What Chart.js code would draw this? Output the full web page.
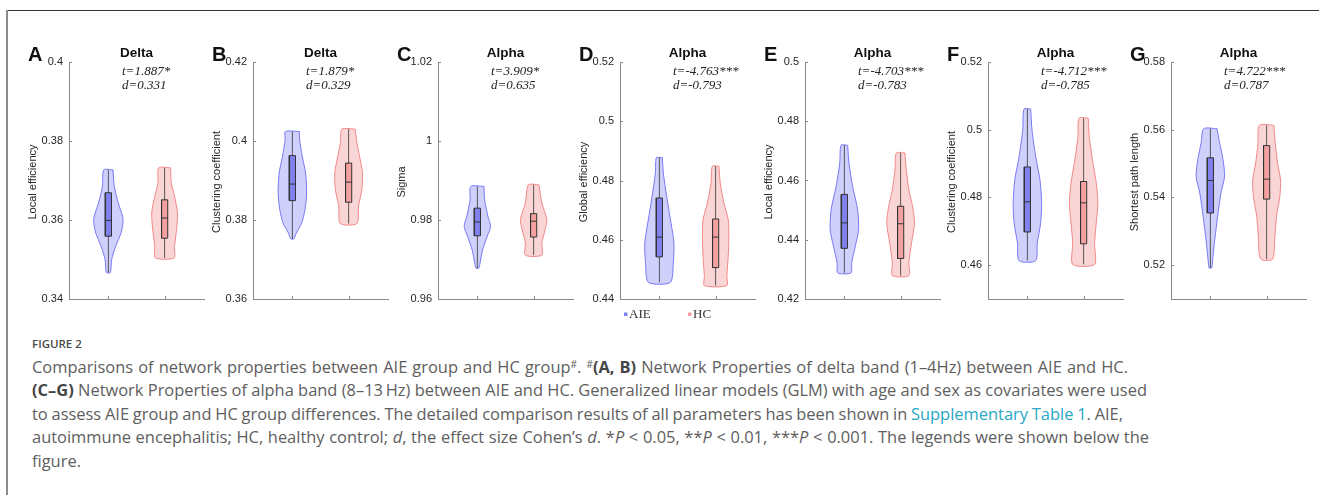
<!DOCTYPE html>
<html>
<head>
<meta charset="utf-8">
<script src="https://cdn.jsdelivr.net/npm/chart.js@4.4.1/dist/chart.umd.min.js"></script>
<style>
  body { margin: 0; background: #fff; width: 1319px; height: 495px; overflow: hidden; position: relative; }
  .frame-top { position: absolute; left: 7px; top: 10px; right: 0; height: 1px; background: #333; }
  .frame-left { position: absolute; left: 6px; top: 10px; width: 2px; bottom: 0; background: #8c8c8c; }
  canvas.panel { position: absolute; top: 0; }
  #caption { position: absolute; left: 32px; top: 335px; color: #5e5e5e; font-family: "Open Sans", sans-serif; white-space: nowrap; }
  #caption .fig { font-size: 11.5px; font-weight: 600; height: 18px; line-height: 18px; color: #4a4a4a; margin-bottom: 2px; }
  #caption .lines div { font-size: 15px; line-height: 23.4px; display: table; }
  #caption b { color: #454545; font-weight: 700; }
  #caption sup { font-size: 10px; line-height: 0; vertical-align: 5px; }
  #caption .link { color: #27a8c4; }
</style>
</head>
<body>
<div class="frame-top"></div>
<div class="frame-left"></div>
<div id="charts"></div>
<div id="caption">
  <div class="fig">FIGURE 2</div>
  <div class="lines">
    <div>Comparisons of network properties between AIE group and HC group<sup>#</sup>. <sup>#</sup><b>(A, B)</b> Network Properties of delta band (1–4Hz) between AIE and HC.</div>
    <div><b>(C–G)</b> Network Properties of alpha band (8–13&#8201;Hz) between AIE and HC. Generalized linear models (GLM) with age and sex as covariates were used</div>
    <div>to assess AIE group and HC group differences. The detailed comparison results of all parameters has been shown in <span class="link">Supplementary Table 1</span>. AIE,</div>
    <div>autoimmune encephalitis; HC, healthy control; <i>d</i>, the effect size Cohen’s <i>d</i>. *<i>P</i> &lt; 0.05, **<i>P</i> &lt; 0.01, ***<i>P</i> &lt; 0.001. The legends were shown below the</div>
    <div>figure.</div>
  </div>
</div>
<script>
// ---- data ----
const panelLetters = ["A", "B", "C", "D", "E", "F", "G"];
const bands = ["Delta", "Delta", "Alpha", "Alpha", "Alpha", "Alpha", "Alpha"];
const measures = ["Local efficiency", "Clustering coefficient", "Sigma", "Global efficiency",
  "Local efficiency", "Clustering coefficient", "Shortest path length"];
const tStats = ["t=1.887*", "t=1.879*", "t=3.909*", "t=-4.763***", "t=-4.703***", "t=-4.712***", "t=4.722***"];
const dStats = ["d=0.331", "d=0.329", "d=0.635", "d=-0.793", "d=-0.783", "d=-0.785", "d=0.787"];
const groups = ["AIE", "HC"];

const yMin = [0.34, 0.36, 0.96, 0.44, 0.42, 0.45, 0.51];
const yMax = [0.40, 0.42, 1.02, 0.52, 0.50, 0.52, 0.58];
const yTicks = [
  [0.34, 0.36, 0.38, 0.4],
  [0.36, 0.38, 0.4, 0.42],
  [0.96, 0.98, 1, 1.02],
  [0.44, 0.46, 0.48, 0.5, 0.52],
  [0.42, 0.44, 0.46, 0.48, 0.5],
  [0.46, 0.48, 0.5, 0.52],
  [0.52, 0.54, 0.56, 0.58]
];

// box stats per panel: [q1, median, q3]
const aieBox = [
  [0.3559, 0.3599, 0.3669], [0.3849, 0.3891, 0.3963], [0.9760, 0.9795, 0.9830], [0.4542, 0.4609, 0.4741],
  [0.4371, 0.4457, 0.4553], [0.4698, 0.4787, 0.4890], [0.5354, 0.5450, 0.5517]
];
const hcBox = [
  [0.3554, 0.3605, 0.3651], [0.3845, 0.3896, 0.3944], [0.9757, 0.9797, 0.9816], [0.4506, 0.4609, 0.4670],
  [0.4337, 0.4454, 0.4513], [0.4663, 0.4784, 0.4847], [0.5395, 0.5454, 0.5553]
];

// violin profiles, top to bottom: [value, half width in x units]
const aieViolin = [
  [[0.3727, 0.082], [0.3685, 0.106], [0.3643, 0.176], [0.3609, 0.253], [0.3592, 0.259], [0.3567, 0.224], [0.3533, 0.129], [0.3500, 0.059], [0.3467, 0.035]],
  [[0.4024, 0.124], [0.4003, 0.129], [0.3961, 0.176], [0.3919, 0.235], [0.3868, 0.253], [0.3826, 0.224], [0.3792, 0.165], [0.3767, 0.07], [0.3752, 0.025]],
  [[0.9885, 0.118], [0.9851, 0.129], [0.9809, 0.188], [0.9784, 0.235], [0.9759, 0.176], [0.9725, 0.094], [0.9691, 0.047], [0.9678, 0.024]],
  [[0.4877, 0.053], [0.4825, 0.071], [0.4747, 0.129], [0.4657, 0.206], [0.4589, 0.259], [0.4521, 0.247], [0.4456, 0.194]],
  [[0.4719, 0.059], [0.4659, 0.082], [0.4580, 0.147], [0.4502, 0.235], [0.4434, 0.253], [0.4378, 0.194], [0.4321, 0.129], [0.4288, 0.118]],
  [[0.5061, 0.059], [0.5000, 0.082], [0.4921, 0.147], [0.4852, 0.224], [0.4783, 0.253], [0.4724, 0.235], [0.4665, 0.176], [0.4613, 0.147]],
  [[0.5603, 0.118], [0.5561, 0.165], [0.5512, 0.224], [0.5462, 0.253], [0.5413, 0.188], [0.5344, 0.129], [0.5265, 0.071], [0.5206, 0.035], [0.5192, 0.024]]
];
const hcViolin = [
  [[0.3732, 0.106], [0.3694, 0.118], [0.3660, 0.176], [0.3618, 0.229], [0.3576, 0.212], [0.3533, 0.176], [0.3504, 0.165]],
  [[0.4030, 0.118], [0.3995, 0.147], [0.3961, 0.194], [0.3919, 0.247], [0.3877, 0.235], [0.3835, 0.176], [0.3791, 0.147]],
  [[0.9889, 0.094], [0.9843, 0.147], [0.9801, 0.235], [0.9776, 0.206], [0.9742, 0.147], [0.9711, 0.147]],
  [[0.4848, 0.059], [0.4792, 0.082], [0.4724, 0.147], [0.4668, 0.224], [0.4612, 0.235], [0.4544, 0.224], [0.4477, 0.2], [0.4445, 0.2]],
  [[0.4693, 0.076], [0.4637, 0.1], [0.4569, 0.147], [0.4513, 0.212], [0.4457, 0.247], [0.4389, 0.194], [0.4322, 0.147], [0.4279, 0.147]],
  [[0.5034, 0.082], [0.4980, 0.1], [0.4902, 0.165], [0.4843, 0.224], [0.4784, 0.253], [0.4724, 0.224], [0.4665, 0.194], [0.4602, 0.194]],
  [[0.5613, 0.129], [0.5561, 0.153], [0.5502, 0.194], [0.5452, 0.247], [0.5403, 0.235], [0.5344, 0.176], [0.5285, 0.147], [0.5218, 0.106]]
];

// ---- layout / style ----
const panelLefts = [69, 253, 438, 620, 805, 988, 1171]; // left edge of each plot area
const AXIS_W = 58, PLOT_W = 135, CANVAS_W = 200, CANVAS_H = 330;
const BOX_HALF = 0.055;
const colors = {
  AIE: { edge: "rgb(120,120,245)", fill: "rgba(120,120,245,0.35)", box: "rgb(128,128,238)" },
  HC: { edge: "rgb(242,135,135)", fill: "rgba(242,135,135,0.35)", box: "rgb(244,160,160)" }
};

function violinPoints(profile, c) {
  const right = profile.map(([v, w]) => ({ x: c + w, y: v }));
  const left = profile.slice().reverse().map(([v, w]) => ({ x: c - w, y: v }));
  return right.concat(left, [right[0]]);
}

// fills a dataset's own line path (closed shapes)
const shapeFillPlugin = {
  id: "shapeFill",
  beforeDatasetDraw(chart, args) {
    const ds = chart.data.datasets[args.index];
    if (!ds.shapeFill) return;
    const line = args.meta.dataset;
    const ctx = chart.ctx;
    line.updateControlPoints(chart.chartArea, "x");
    ctx.save();
    ctx.beginPath();
    line.path(ctx);
    ctx.closePath();
    ctx.fillStyle = ds.shapeFill;
    ctx.fill();
    ctx.restore();
  }
};

// panel letter, titles, stats, inward ticks, legend
const decorPlugin = {
  id: "decor",
  afterDraw(chart, args, opts) {
    const i = opts.index;
    const { ctx, chartArea } = chart;
    const { left, right, top, bottom } = chartArea;
    const xs = chart.scales.x, ys = chart.scales.y;
    ctx.save();
    // inward ticks
    ctx.strokeStyle = "#888";
    ctx.lineWidth = 1;
    ctx.beginPath();
    yTicks[i].forEach(v => {
      const y = Math.round(ys.getPixelForValue(v)) + 0.5;
      ctx.moveTo(left, y); ctx.lineTo(left + 3, y);
    });
    [1, 2].forEach(c => {
      const x = Math.round(xs.getPixelForValue(c)) + 0.5;
      ctx.moveTo(x, bottom); ctx.lineTo(x, bottom - 3);
    });
    ctx.stroke();

    ctx.fillStyle = "#111";
    ctx.font = "bold 20px 'Liberation Sans', Arial, sans-serif";
    ctx.textAlign = "left";
    ctx.textBaseline = "alphabetic";
    ctx.fillText(panelLetters[i], left - 41, 60.5);

    ctx.font = "bold 13.5px 'Liberation Sans', Arial, sans-serif";
    ctx.textAlign = "center";
    ctx.fillText(bands[i], (left + right) / 2, 57);

    ctx.fillStyle = "#222";
    ctx.font = "italic 13px 'Liberation Serif', 'Times New Roman', serif";
    ctx.textAlign = "left";
    ctx.fillText(tStats[i], left + 53, 75);
    ctx.fillText(dStats[i], left + 53, 89);

    ctx.fillStyle = "#262626";
    ctx.font = "11px 'Liberation Sans', Arial, sans-serif";
    ctx.save();
    ctx.translate(left - 36, (top + bottom) / 2 + 1.5);
    ctx.rotate(-Math.PI / 2);
    ctx.textAlign = "center";
    ctx.textBaseline = "middle";
    ctx.fillText(measures[i], 0, 0);
    ctx.restore();

    if (opts.legend) {
      ctx.font = "13px 'Liberation Serif', 'Times New Roman', serif";
      ctx.textBaseline = "middle";
      ctx.textAlign = "left";
      [[groups[0], 4], [groups[1], 68]].forEach(([g, dx]) => {
        ctx.fillStyle = colors[g].box;
        ctx.fillRect(left + dx, 312.5, 3.5, 3.5);
        ctx.fillStyle = "#333";
        ctx.fillText(g, left + dx + 5, 315);
      });
    }
    ctx.restore();
  }
};

function buildDatasets(i) {
  const ds = [];
  [aieViolin, hcViolin].forEach((violins, g) => {
    const c = g + 1;
    const col = colors[groups[g]];
    const prof = violins[i];
    const box = (g === 0 ? aieBox : hcBox)[i];
    ds.push({
      label: groups[g] + " violin", data: violinPoints(prof, c),
      borderColor: col.edge, borderWidth: 1, tension: 0.25, shapeFill: col.fill, order: 4
    });
    ds.push({
      label: groups[g] + " whisker",
      data: [{ x: c, y: prof[prof.length - 1][0] }, { x: c, y: prof[0][0] }],
      borderColor: "#555", borderWidth: 1, order: 3
    });
    ds.push({
      label: groups[g] + " box",
      data: [{ x: c - BOX_HALF, y: box[0] }, { x: c + BOX_HALF, y: box[0] }, { x: c + BOX_HALF, y: box[2] },
             { x: c - BOX_HALF, y: box[2] }, { x: c - BOX_HALF, y: box[0] }],
      borderColor: "#333", borderWidth: 1, shapeFill: col.box, order: 2
    });
    ds.push({
      label: groups[g] + " median",
      data: [{ x: c - BOX_HALF, y: box[1] }, { x: c + BOX_HALF, y: box[1] }],
      borderColor: "#333", borderWidth: 1, order: 1
    });
  });
  return ds;
}

const holder = document.getElementById("charts");
panelLetters.forEach((letter, i) => {
  const cv = document.createElement("canvas");
  cv.className = "panel";
  cv.width = CANVAS_W;
  cv.height = CANVAS_H;
  cv.style.left = (panelLefts[i] - AXIS_W) + "px";
  holder.appendChild(cv);

  new Chart(cv.getContext("2d"), {
    type: "line",
    data: { datasets: buildDatasets(i) },
    options: {
      responsive: false,
      animation: false,
      events: [],
      elements: { point: { radius: 0 } },
      layout: { padding: { top: 62, bottom: 31, left: 0, right: CANVAS_W - AXIS_W - PLOT_W } },
      plugins: {
        legend: { display: false },
        tooltip: { enabled: false },
        decor: { index: i, legend: i === 3 }
      },
      scales: {
        x: {
          type: "linear", min: 0.3, max: 2.7,
          ticks: { display: false },
          grid: { display: false, drawTicks: false },
          border: { color: "#888", width: 1 },
          afterFit: s => { s.height = 0; }
        },
        y: {
          type: "linear", min: yMin[i], max: yMax[i],
          afterBuildTicks: s => { s.ticks = yTicks[i].map(v => ({ value: v })); },
          ticks: {
            padding: 6, color: "#262626",
            font: { family: "'Liberation Sans', Arial, sans-serif", size: 11 },
            callback: v => String(+v.toFixed(2))
          },
          grid: { display: false, drawTicks: false },
          border: { color: "#888", width: 1 },
          afterFit: s => { s.width = AXIS_W; }
        }
      }
    },
    plugins: [shapeFillPlugin, decorPlugin]
  });
});

// fit caption lines to the original line ends (font size from line 2, word spacing per line)
const capLines = Array.from(document.querySelectorAll("#caption .lines div"));
const lineWidths = [1096, 1115, 1091, 1117, null];
const size = 15 * lineWidths[1] / capLines[1].getBoundingClientRect().width;
capLines.forEach(d => { d.style.fontSize = size.toFixed(2) + "px"; });
capLines.forEach((d, k) => {
  if (!lineWidths[k]) return;
  const gaps = (d.textContent.match(/ /g) || []).length;
  const diff = lineWidths[k] - d.getBoundingClientRect().width;
  d.style.wordSpacing = (diff / gaps).toFixed(3) + "px";
});
</script>
</body>
</html>
